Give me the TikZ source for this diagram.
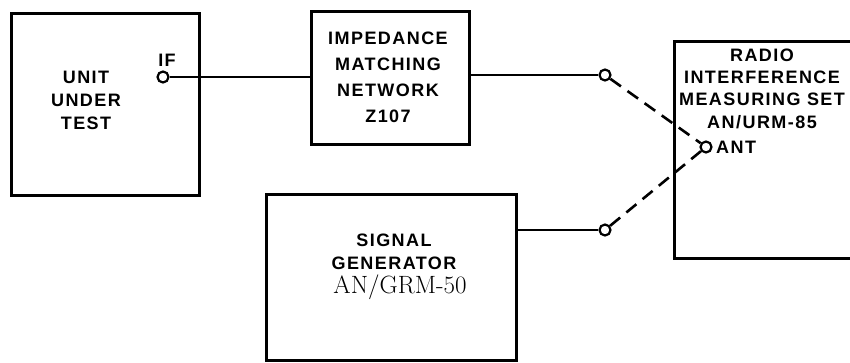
\documentclass[tikz,border=0pt]{standalone}
\usepackage{fontspec}
\newfontfamily\lbl[LetterSpace=8]{Liberation Sans}
\begin{document}
\begin{tikzpicture}[x=1pt,y=-1pt,
  box/.style={draw,line width=3pt,anchor=north west,inner sep=0pt},
  term/.style={circle,draw,fill=white,line width=2.2pt,inner sep=0pt,minimum size=11pt},
  wire/.style={line width=2.6pt},
  dwire/.style={line width=2.6pt,dash pattern=on 13pt off 8pt},
  txt/.style={align=center,font=\lbl\bfseries\fontsize{18}{23}\selectfont,inner sep=0pt}]
\useasboundingbox (0,0) rectangle (850,362);
% boxes
\node[box,minimum width=188pt,minimum height=182pt] (uut) at (10,12) {};
\node[box,minimum width=158pt,minimum height=133pt] (imp) at (310,10) {};
\node[box,minimum width=220pt,minimum height=217pt] (rims) at (673,40) {};
\node[box,minimum width=250pt,minimum height=166pt] (sig) at (265,193) {};
% texts
\node[txt] (tuut) at (86,100) {UNIT\\UNDER\\TEST};
\node[txt,font=\lbl\bfseries\fontsize{18}{26}\selectfont] (timp) at (388,77.5) {IMPEDANCE\\MATCHING\\NETWORK\\Z107};
\node[txt,font=\lbl\bfseries\fontsize{18}{22.3}\selectfont] (trims) at (762,88.5) {RADIO\\INTERFERENCE\\MEASURING SET\\AN/URM-85};
\node[txt] (tsig) at (394,251.5) {SIGNAL\\GENERATOR};
\node[inner sep=0pt,font=\rmfamily\fontsize{25}{27}\selectfont\addfontfeatures{LetterSpace=10}] (tmod) at (400,287) {AN/GRM-50};
% terminals
\node[term] (if) at (163,77) {};
\node[txt,anchor=base] (tif) at (167,66) {IF};
\node[term] (c1) at (605,75) {};
\node[term] (c2) at (605,230) {};
\node[term] (ant) at (706,147) {};
\node[txt,anchor=west] (tant) at (716,147) {ANT};
% connections
\draw[wire] (if) -- (if -| imp.west);
\draw[wire] (c1 -| imp.east) -- (c1);
\draw[wire] (c2 -| sig.east) -- (c2);
\draw[dwire] (c1) -- (ant);
\draw[dwire] (c2) -- (ant);
\end{tikzpicture}
\end{document}
